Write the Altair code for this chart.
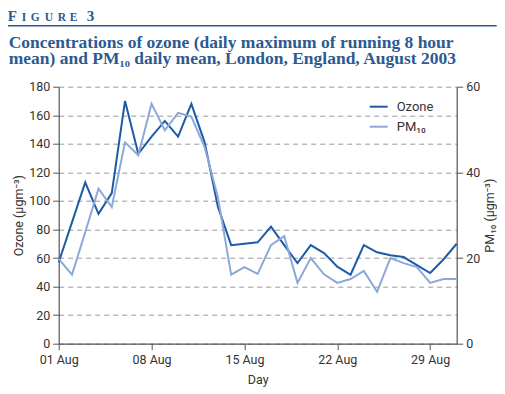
import altair as alt
import pandas as pd

days = list(range(1, 32))
ozone = [57, 85, 113, 91, 105.5, 170, 133, 145, 156, 145, 168, 141, 96, 69, 70, 71,
         82, 69, 56.5, 69, 63.5, 54, 48.3, 69, 64, 62, 60.7, 55, 49.5, 59, 70]
pm10 = [19.8, 16.1, 26, 36.2, 31.9, 47, 44, 56, 49.8, 53.9, 53, 45.9, 34.2, 16.1, 17.9, 16.3,
        23, 25.1, 14.2, 20, 16.2, 14.2, 15.1, 17, 12.1, 20, 18.8, 17.9, 14.2, 15.1, 15.1]
series_names = ["Ozone", "PM₁₀"]
series_colors = ["#1d5ba6", "#8ca8d8"]
x_ticks = [1, 8, 15, 22, 29]

title_lines = ["Concentrations of ozone (daily maximum of running 8 hour",
               "mean) and PM₁₀ daily mean, London, England, August 2003"]

TITLE_BLUE = "#2c5a91"
AXIS_FONT = "Roboto"
W, H = 398, 257

df_o = pd.DataFrame({"day": days, "value": ozone, "series": series_names[0]})
df_p = pd.DataFrame({"day": days, "value": pm10, "series": series_names[1]})

color = alt.Color("series:N",
                  scale=alt.Scale(domain=series_names, range=series_colors),
                  legend=alt.Legend(title=None, orient="none", legendX=310, legendY=10,
                                    symbolType="stroke", symbolSize=320, symbolStrokeWidth=2,
                                    labelFont=AXIS_FONT, labelFontSize=13, labelColor="#333",
                                    rowPadding=3, labelOffset=8))

x = alt.X("day:Q", scale=alt.Scale(domain=[1, 31], nice=False, zero=False),
          axis=alt.Axis(values=x_ticks, title="Day", grid=False, labelFlush=False,
                        labelExpr="(datum.value < 10 ? '0' : '') + datum.value + ' Aug'",
                        tickSize=6, labelPadding=4, titlePadding=7))

ozone_line = alt.Chart(df_o).mark_line(strokeWidth=2).encode(
    x=x,
    y=alt.Y("value:Q", scale=alt.Scale(domain=[0, 180], nice=False),
            axis=alt.Axis(values=list(range(0, 181, 20)), title="Ozone (µgm⁻³)",
                          grid=True, gridDash=[5, 4], gridColor="#9a9a9a", gridWidth=1,
                          tickSize=6, labelPadding=3, titlePadding=3, labelFlush=False)),
    color=color,
)

pm_line = alt.Chart(df_p).mark_line(strokeWidth=2).encode(
    x=x,
    y=alt.Y("value:Q", scale=alt.Scale(domain=[0, 60], nice=False),
            axis=alt.Axis(values=[0, 20, 40, 60], title="PM₁₀ (µgm⁻³)", orient="right",
                          grid=False, tickSize=6, labelPadding=3, titleAngle=270,
                          titlePadding=17, labelFlush=False)),
    color=color,
)

# Header: "FIGURE 3" in small caps, a rule, and the two-line title
header = []
letters = [("F", 15, -51), ("I", 11.5, -37), ("G", 11.5, -28), ("U", 11.5, -14),
           ("R", 11.5, -1), ("E", 11.5, 11), ("3", 15, 28)]
for ch, sz, dx in letters:
    header.append(alt.Chart().mark_text(font="Liberation Serif", fontWeight="bold",
                                        fontSize=sz, color=TITLE_BLUE, align="left",
                                        baseline="alphabetic").encode(
        x=alt.value(dx), y=alt.value(-65.5), text=alt.value(ch)))
header.append(alt.Chart().mark_rule(color=TITLE_BLUE, strokeWidth=1.6).encode(
    x=alt.value(-51), x2=alt.value(438), y=alt.value(-61)))
for i, line in enumerate(title_lines):
    header.append(alt.Chart().mark_text(font="Liberation Serif", fontWeight="bold",
                                        fontSize=17.5, color=TITLE_BLUE, align="left",
                                        baseline="alphabetic").encode(
        x=alt.value(-50), y=alt.value(-39 + 16.8 * i), text=alt.value(line)))

chart = alt.layer(ozone_line, pm_line, *header).resolve_scale(y="independent").properties(
    width=W, height=H,
    autosize=alt.AutoSizeParams(type="none"),
    padding={"left": 50.7, "top": 78.7, "right": 40, "bottom": 44},
).configure_view(stroke=None).configure_axis(
    labelFont=AXIS_FONT, titleFont=AXIS_FONT, labelFontSize=12.5, titleFontSize=12.5,
    labelColor="#333", titleColor="#333", titleFontWeight="normal",
    domainColor="#555", tickColor="#555", domainWidth=1.2,
)

chart.save("out.html", embed_options={"renderer": "svg", "actions": False})
